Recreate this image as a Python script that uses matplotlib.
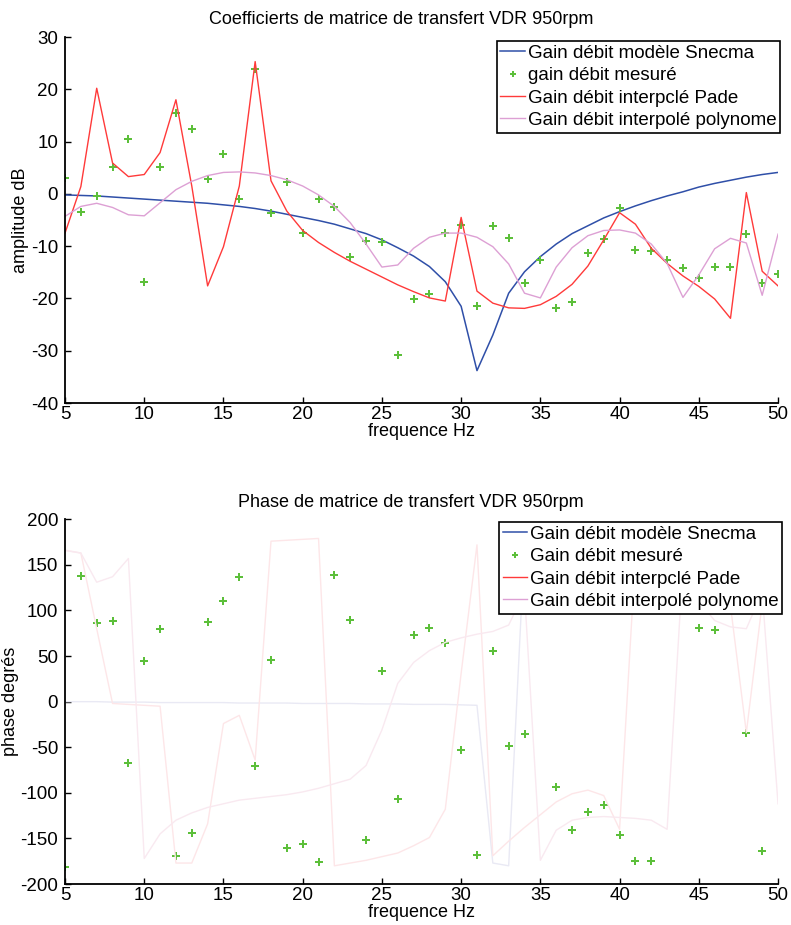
import matplotlib
matplotlib.use("Agg")
import matplotlib.pyplot as plt
from matplotlib.lines import Line2D

plt.rcParams['font.family'] = ['Liberation Sans', 'DejaVu Sans']
plt.rcParams['axes.unicode_minus'] = False

# frequences (Hz)
freq = list(range(5, 51))

# gain (dB)
gain_snecma = [-0.2, -0.3, -0.4, -0.6, -0.8, -1.0, -1.2, -1.4, -1.6, -1.8,
               -2.1, -2.4, -2.8, -3.3, -3.9, -4.5, -5.1, -5.8, -6.7, -7.6,
               -8.8, -10.3, -11.9, -13.9, -16.8, -21.5, -33.8, -27.0, -19.0, -14.9,
               -12.0, -9.6, -7.6, -6.1, -4.6, -3.4, -2.3, -1.3, -0.4, 0.4,
               1.3, 2.0, 2.6, 3.2, 3.7, 4.1]
gain_mesure = [3.1, -3.4, -0.4, 5.1, 10.5, -16.8, 5.2, 15.5, 12.4, 2.9,
               7.6, -1.0, 23.8, -3.6, 2.3, -7.5, -1.0, -2.6, -12.0, -9.1,
               -9.2, -30.8, -20.1, -19.2, -7.4, -5.9, -21.5, -6.2, -8.5, -17.1,
               -12.7, -21.9, -20.6, -11.4, -8.7, -2.7, -10.8, -11.0, -12.7, -14.1,
               -16.1, -13.9, -14.0, -7.7, -17.0, -15.4]
gain_pade = [-7.5, 1.4, 20.2, 5.9, 3.3, 3.7, 7.9, 18.0, 1.5, -17.6,
             -10.1, 1.5, 25.3, 2.5, -3.3, -7.0, -9.3, -11.2, -12.9, -14.4,
             -15.9, -17.4, -18.7, -19.9, -20.5, -4.5, -18.6, -20.9, -21.8, -21.9,
             -21.2, -19.6, -17.3, -13.8, -8.8, -3.6, -5.8, -10.4, -13.3, -15.7,
             -17.7, -20.1, -23.8, 0.25, -14.8, -17.6]
gain_poly = [-4.3, -2.4, -1.8, -2.6, -4.0, -4.2, -1.7, 0.8, 2.4, 3.5,
             4.1, 4.2, 4.0, 3.5, 2.7, 1.5, -0.2, -2.4, -5.5, -9.6,
             -14.0, -13.6, -10.4, -8.3, -7.5, -7.5, -8.3, -10.1, -13.4, -19.0,
             -19.9, -14.0, -10.3, -8.0, -7.0, -6.9, -7.5, -9.6, -13.3, -19.8,
             -15.5, -10.5, -8.5, -9.4, -19.4, -7.7]

# phase (degres)
phase_snecma = [0, 0, 0, -0.5, -0.5, -0.5, -1, -1, -1, -1,
                -1, -1.5, -1.5, -1.5, -1.5, -2, -2, -2, -2, -2.5,
                -2.5, -2.5, -3, -3, -3, -3.5, -4, -177, -180, 172,
                165, 158, 152, 147, 142, 138, 134, 131, 128, 125,
                122, 120, 118, 116, 114, 112]
phase_mesure = [-181, 137.7, 86.8, 88.2, -67.5, 44.6, 79.5, -169.7, -144.4, 87.1,
                109.9, 136.3, -71.1, 46.2, -160.9, -156.5, -176.3, 138.5, 89.3, -151.6,
                33.3, -106.6, 72.9, 80.5, 64.8, -53.5, -168, 55.6, -48.4, -35.9,
                150, -93.8, -140.7, -120.5, -112.9, -145.8, -174.4, -174.4, 140, 160,
                80.9, 79.1, 130, -34, -163.8, 138.8]
phase_pade = [166, 163, 80, -2, -3, -4, -5, -177, -177, -134,
              -24, -15, -64, 176, 177, 178, 179, -180, -177, -174,
              -170, -166, -158, -149, -118, 31, 172, -169, -153, -138,
              -124, -110, -101, -97, -103, -140, 160, 170, 175, 178,
              170, 150, 105, -34, 108, 150]
phase_poly = [166, 163, 131, 137, 157, -172, -145, -130, -122, -116,
              -112, -108, -106, -104, -102, -99, -95, -90, -85, -70,
              -31, 20, 43, 56, 65, 70, 74, 77, 84, 120,
              -174, -141, -130, -127, -126, -127, -128, -130, -140, 150,
              110, 89, 82, 80, 120, -112]

c_blue = '#2f4fa8'
c_green = '#5cbf3a'
c_red = '#ff3a3a'
c_pink = '#dda0d4'

labels_top = ['Gain débit modèle Snecma', 'gain débit mesuré',
              'Gain débit interpclé Pade', 'Gain débit interpolé polynome']
labels_bot = ['Gain débit modèle Snecma', 'Gain débit mesuré',
              'Gain débit interpclé Pade', 'Gain débit interpolé polynome']


def style_axes(ax):
    ax.spines['top'].set_visible(False)
    ax.spines['right'].set_visible(False)
    ax.spines['left'].set_linewidth(1.3)
    ax.spines['bottom'].set_linewidth(1.3)
    ax.tick_params(direction='in', length=4, width=1, labelsize=13.5)
    ax.tick_params(axis='x', pad=2)
    ax.tick_params(axis='y', pad=5)
    ax.set_xlim(5, 50)
    ax.set_xticks(range(5, 51, 5))


def add_legend(ax, labels, anchor):
    handles = [Line2D([], [], color=c_blue, lw=1.1),
               Line2D([], [], ls='none', marker='P', ms=5, color=c_green, mew=0),
               Line2D([], [], color=c_red, lw=1.0),
               Line2D([], [], color=c_pink, lw=1.0)]
    leg = ax.legend(handles, labels, loc='upper left',
                    bbox_to_anchor=anchor, bbox_transform=fig.transFigure,
                    fontsize=13.5, frameon=True, fancybox=False, framealpha=1,
                    edgecolor='black', handlelength=1.3, handletextpad=0.15,
                    labelspacing=0.28, borderpad=0.2, borderaxespad=0)
    leg.get_frame().set_linewidth(1.2)


fig = plt.figure(figsize=(7.91, 9.25), dpi=100)

# ---- gain ----
ax1 = fig.add_axes([0.0822, 0.5643, 0.9014, 0.3957])
ax1.plot(freq, gain_snecma, color=c_blue, lw=1.1)
ax1.plot(freq, gain_mesure, ls='none', marker='P', ms=5.5, color=c_green, mew=0)
ax1.plot(freq, gain_pade, color=c_red, lw=1.0)
ax1.plot(freq, gain_poly, color=c_pink, lw=1.0)
style_axes(ax1)
ax1.set_ylim(-40, 30)
ax1.set_yticks(range(-40, 31, 10))
ax1.set_title('Coefficierts de matrice de transfert VDR 950rpm', fontsize=13,
              x=0.472, pad=9)
ax1.set_xlabel('frequence Hz', fontsize=13, labelpad=0)
ax1.set_ylabel('amplitude dB', fontsize=13, labelpad=1)
add_legend(ax1, labels_top, (0.628, 0.9557))

# ---- phase ----
ax2 = fig.add_axes([0.0822, 0.0443, 0.9014, 0.3943])
ax2.plot(freq, phase_snecma, color='#e9e9f4', lw=1.0)
ax2.plot(freq, phase_mesure, ls='none', marker='P', ms=5.5, color=c_green, mew=0)
ax2.plot(freq, phase_pade, color='#fde6e8', lw=1.0)
ax2.plot(freq, phase_poly, color='#f9e9f0', lw=1.0)
style_axes(ax2)
ax2.set_ylim(-200, 200)
ax2.set_yticks(range(-200, 201, 50))
ax2.set_title('Phase de matrice de transfert VDR 950rpm', fontsize=13,
              x=0.485, pad=9)
ax2.set_xlabel('frequence Hz', fontsize=13, labelpad=0)
ax2.set_ylabel('phase degrés', fontsize=13, labelpad=1)
add_legend(ax2, labels_bot, (0.631, 0.4357))

fig.savefig('out.png', dpi=100)
